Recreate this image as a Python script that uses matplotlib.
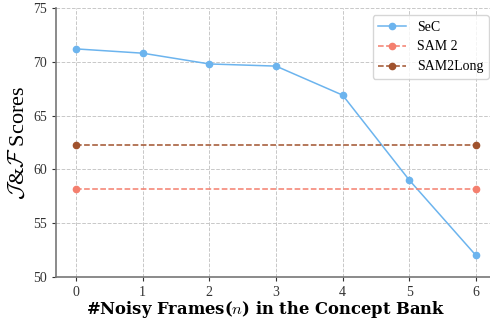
import matplotlib
matplotlib.use("Agg")
import matplotlib.pyplot as plt

x = [0, 1, 2, 3, 4, 5, 6]
sec = [71.2, 70.8, 69.8, 69.6, 66.9, 59.0, 52.0]
sam2 = [58.2, 58.2]
sam2long = [62.3, 62.3]
ends = [0, 6]

plt.rcParams['font.family'] = ['Liberation Serif', 'DejaVu Serif']
plt.rcParams['mathtext.fontset'] = 'cm'

fig = plt.figure(figsize=(4.9, 3.22), dpi=100)
ax = fig.add_axes([56/490, 1-277/322, 434/490, 269/322])

ax.plot(x, sec, '-o', color='#6cb4ee', lw=1.1, ms=4.5, label='SeC', zorder=3)
ax.plot(ends, sam2, '--o', color='#f47f6e', lw=1.1, ms=4.5, label='SAM 2', zorder=3)
ax.plot(ends, sam2long, '--o', color='#a0522d', lw=1.1, ms=4.5, label='SAM2Long', zorder=3)

ax.set_xlim(-0.3, 6.21)
ax.set_ylim(50, 75)
ax.set_xticks(x)
ax.set_yticks([50, 55, 60, 65, 70, 75])
ax.tick_params(labelsize=10, colors='#333333', length=3, width=0.8)
ax.grid(True, linestyle='--', color='#c8c8c8', lw=0.7)
for s in ['top', 'right']:
    ax.spines[s].set_visible(False)
for s in ['left', 'bottom']:
    ax.spines[s].set_color('#777777')
    ax.spines[s].set_linewidth(1.2)

ax.set_xlabel('#Noisy Frames($n$) in the Concept Bank', fontsize=11.8, fontweight='bold',
              family=['DejaVu Serif'])
ax.xaxis.set_label_coords(0.484, -0.08)
ax.set_ylabel(r'$\mathcal{J}$&$\mathcal{F}$ Scores', fontsize=16, labelpad=3)

leg = ax.legend(loc='upper right', fontsize=10, frameon=True, fancybox=True,
                handlelength=2.0, bbox_to_anchor=(489/490, 1-15/322),
                bbox_transform=fig.transFigure, borderaxespad=0)
leg.get_frame().set_edgecolor('#cccccc')

fig.savefig('out.png', dpi=100)
